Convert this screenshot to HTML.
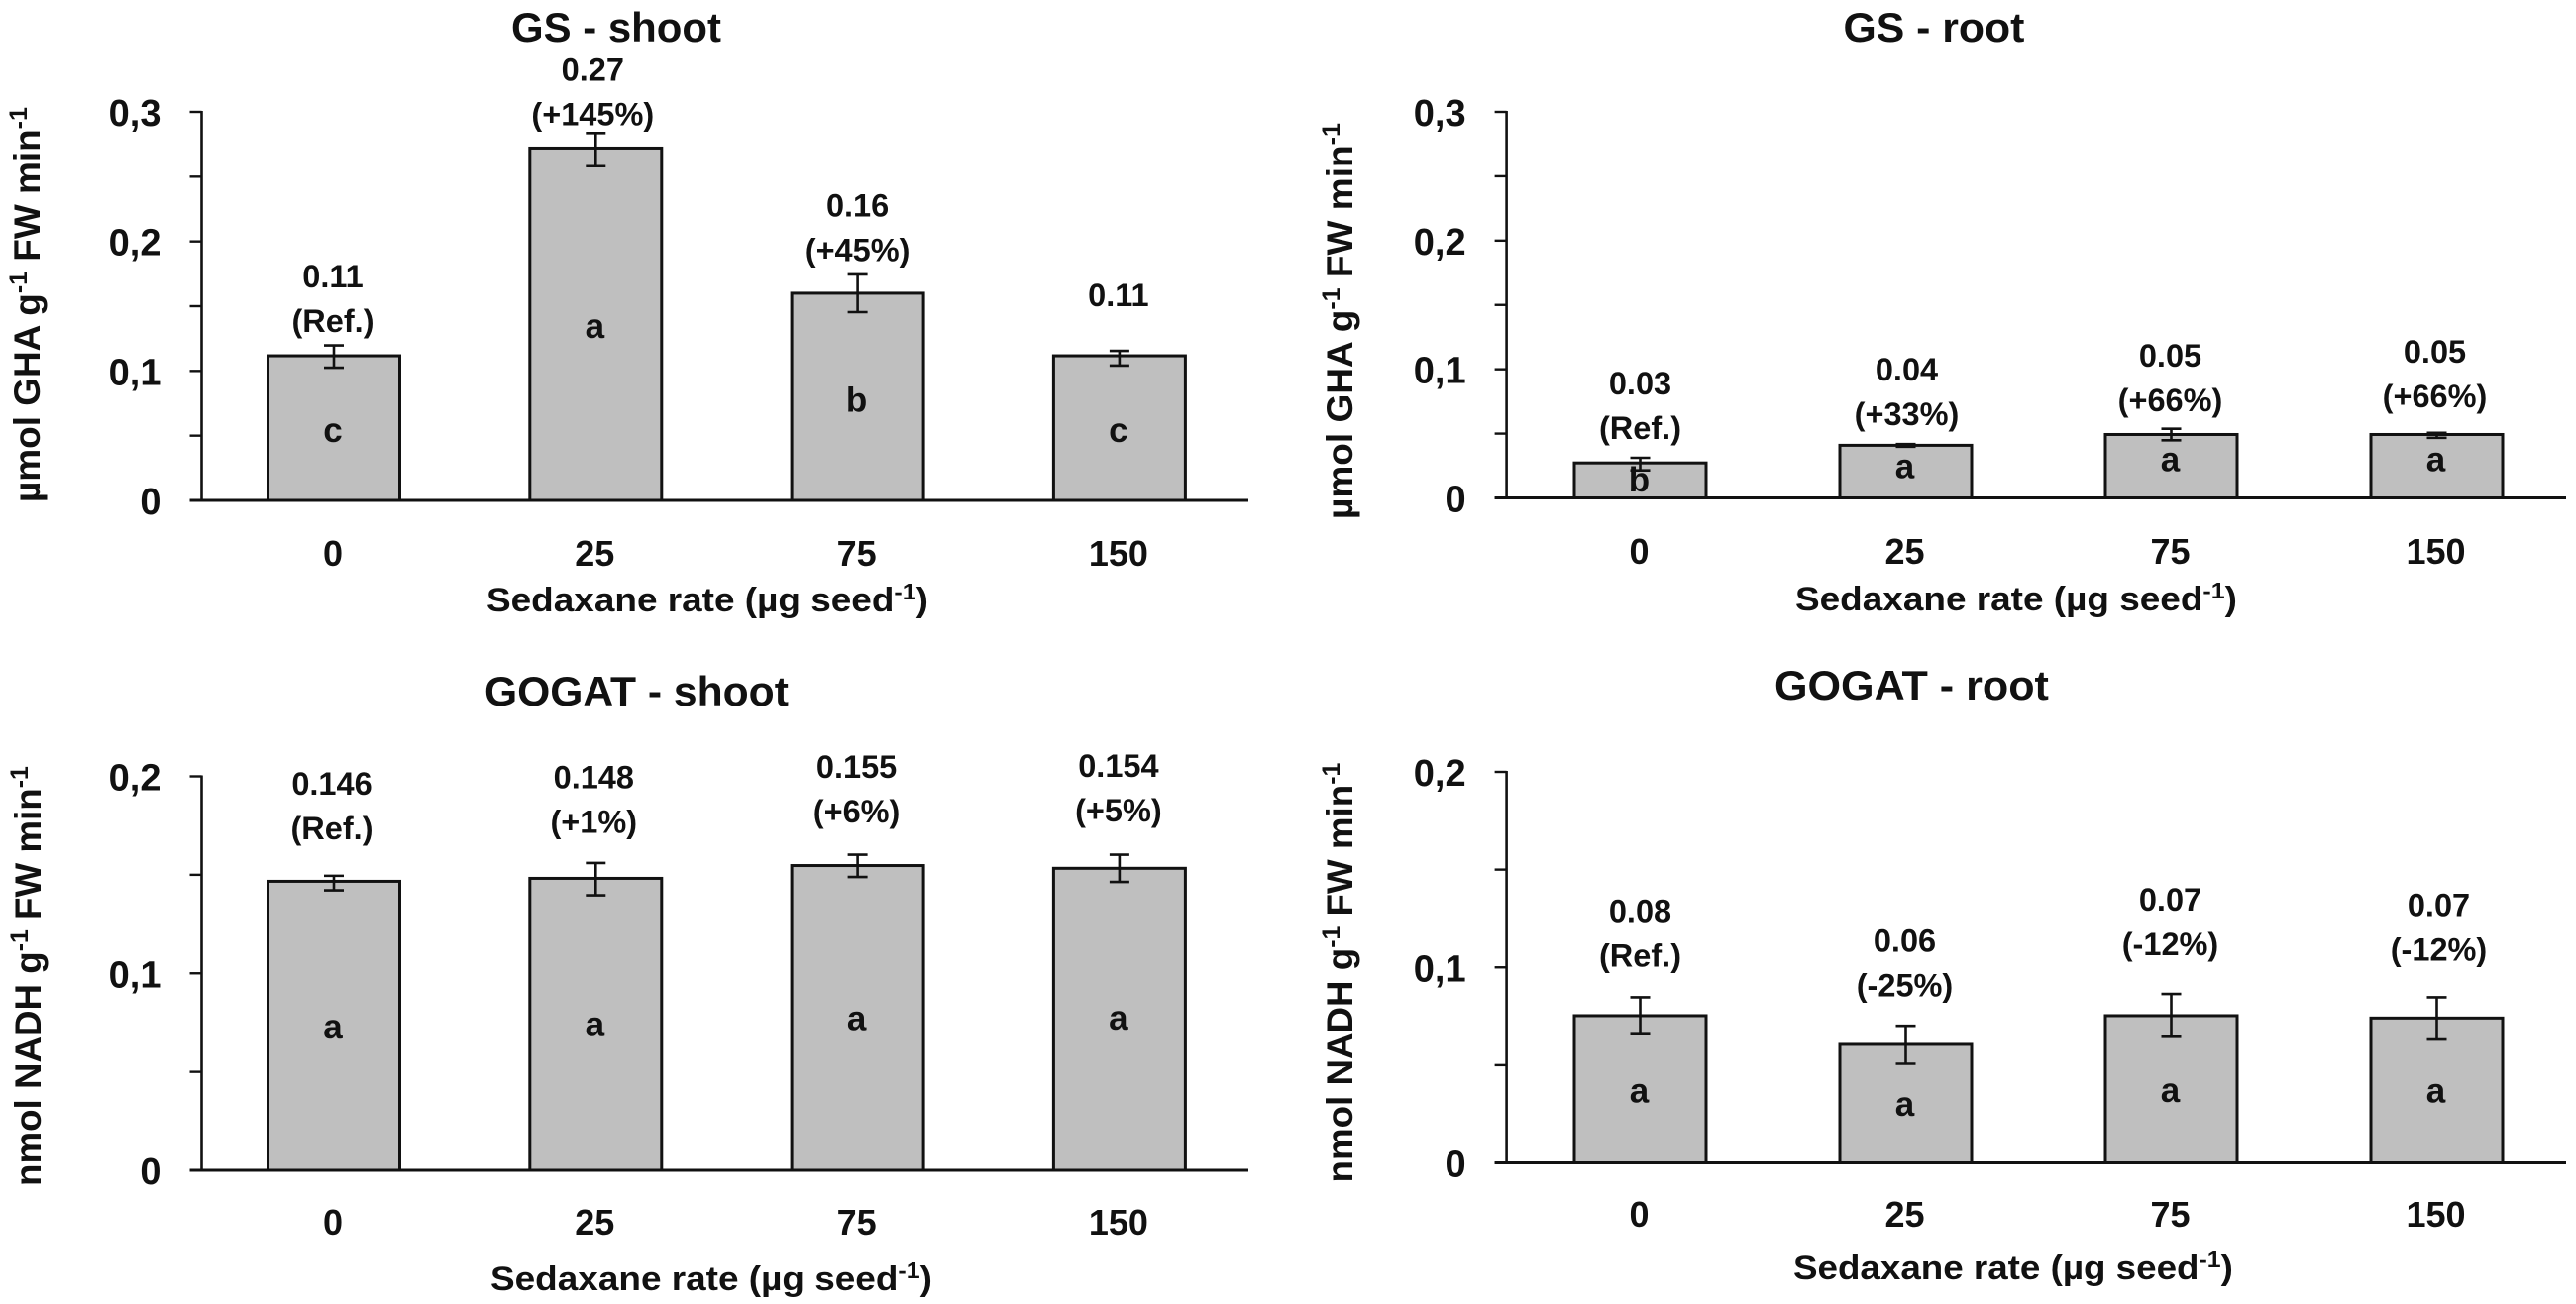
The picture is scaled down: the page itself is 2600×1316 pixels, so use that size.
<!DOCTYPE html>
<html lang="en">
<head>
<meta charset="utf-8">
<title>GS and GOGAT activity by Sedaxane rate</title>
<style>
html,body{margin:0;padding:0;background:#fff;}
svg{display:block;}
text{font-family:"Liberation Sans",sans-serif;font-weight:700;fill:#111;}
</style>
</head>
<body>
<svg id="figure" xmlns="http://www.w3.org/2000/svg" width="2600" height="1316" viewBox="0 0 2600 1316"></svg>
<script>
// ---- chart data ----
const categories = ['0', '25', '75', '150'];

const gsTickValues = [0, 0.05, 0.1, 0.15, 0.2, 0.25, 0.3];
const gsTickLabels = ['0', '', '0,1', '', '0,2', '', '0,3'];
const gogatTickValues = [0, 0.05, 0.1, 0.15, 0.2];
const gogatTickLabels = ['0', '', '0,1', '', '0,2'];

const gsShootMeans = [0.1117, 0.2721, 0.16, 0.1117];
const gsShootErrHigh = [0.1197, 0.2837, 0.1745, 0.1155];
const gsShootErrLow = [0.1025, 0.2581, 0.1454, 0.1041];
const gsShootValues = ['0.11', '0.27', '0.16', '0.11'];
const gsShootChanges = ['(Ref.)', '(+145%)', '(+45%)', ''];
const gsShootLetters = ['c', 'a', 'b', 'c'];

const gsRootMeans = [0.0272, 0.0409, 0.0493, 0.0493];
const gsRootErrHigh = [0.0312, 0.0418, 0.0538, 0.0506];
const gsRootErrLow = [0.0214, 0.0398, 0.0448, 0.0467];
const gsRootValues = ['0.03', '0.04', '0.05', '0.05'];
const gsRootChanges = ['(Ref.)', '(+33%)', '(+66%)', '(+66%)'];
const gsRootLetters = ['b', 'a', 'a', 'a'];

const gogatShootMeans = [0.1467, 0.1482, 0.1547, 0.1533];
const gogatShootErrHigh = [0.1495, 0.156, 0.1602, 0.1602];
const gogatShootErrLow = [0.1421, 0.1396, 0.1489, 0.1464];
const gogatShootValues = ['0.146', '0.148', '0.155', '0.154'];
const gogatShootChanges = ['(Ref.)', '(+1%)', '(+6%)', '(+5%)'];
const gogatShootLetters = ['a', 'a', 'a', 'a'];

const gogatRootMeans = [0.0753, 0.0606, 0.0753, 0.0741];
const gogatRootErrHigh = [0.0847, 0.0701, 0.0864, 0.0847];
const gogatRootErrLow = [0.0658, 0.0507, 0.0645, 0.0631];
const gogatRootValues = ['0.08', '0.06', '0.07', '0.07'];
const gogatRootChanges = ['(Ref.)', '(-25%)', '(-12%)', '(-12%)'];
const gogatRootLetters = ['a', 'a', 'a', 'a'];

// ---- layout (geometry only) ----
const panels = [
  { key:'gs-shoot', title:'GS - shoot', means:gsShootMeans, hi:gsShootErrHigh, lo:gsShootErrLow,
    vals:gsShootValues, chg:gsShootChanges, let:gsShootLetters, ticks:gsTickValues, tickText:gsTickLabels, max:0.3,
    unit:'µmol GHA g', axisX:203.5, top:113, y0:505, xEnd:1260, bandStart:337, bandStep:264.3,
    labelLift:[13.5,8,13.4,45], labelShift:[-1,-3,0,-1], letterNudge:[3,3,4,3],
    tickBase:571, xTitleX:491, xTitleW:446, xTitleBase:617, titleX:516, titleW:212, titleBase:42,
    yLabelBase:40, yLabelBottom:507, yLabelLen:399 },
  { key:'gs-root', title:'GS - root', means:gsRootMeans, hi:gsRootErrHigh, lo:gsRootErrLow,
    vals:gsRootValues, chg:gsRootChanges, let:gsRootLetters, ticks:gsTickValues, tickText:gsTickLabels, max:0.3,
    unit:'µmol GHA g', axisX:1520.6, top:113, y0:502.5, xEnd:2590, bandStart:1655.5, bandStep:268,
    labelLift:[19,19,17.7,26], labelShift:[0,1,-1,-2], letterNudge:[0,-4.5,-6,-6],
    tickBase:569, xTitleX:1812, xTitleW:446, xTitleBase:616, titleX:1860.5, titleW:183, titleBase:42,
    yLabelBase:1365, yLabelBottom:524, yLabelLen:400 },
  { key:'gogat-shoot', title:'GOGAT - shoot', means:gogatShootMeans, hi:gogatShootErrHigh, lo:gogatShootErrLow,
    vals:gogatShootValues, chg:gogatShootChanges, let:gogatShootLetters, ticks:gogatTickValues, tickText:gogatTickLabels, max:0.2,
    unit:'nmol NADH g', axisX:203.5, top:783.5, y0:1181, xEnd:1260, bandStart:337, bandStep:264.3,
    labelLift:[37,30.4,32.5,33.5], labelShift:[-2,-2,-1,-1], letterNudge:[1.7,0.9,1,-0.6],
    tickBase:1246, xTitleX:495, xTitleW:446, xTitleBase:1302, titleX:489, titleW:307, titleBase:712,
    yLabelBase:41, yLabelBottom:1197, yLabelLen:424 },
  { key:'gogat-root', title:'GOGAT - root', means:gogatRootMeans, hi:gogatRootErrHigh, lo:gogatRootErrLow,
    vals:gogatRootValues, chg:gogatRootChanges, let:gogatRootLetters, ticks:gogatTickValues, tickText:gogatTickLabels, max:0.2,
    unit:'nmol NADH g', axisX:1520.6, top:779, y0:1173.5, xEnd:2590, bandStart:1655.5, bandStep:268,
    labelLift:[30.7,29.5,39,37], labelShift:[0,-1,-1,2], letterNudge:[2.5,1.3,1.7,1],
    tickBase:1238, xTitleX:1810, xTitleW:444, xTitleBase:1291, titleX:1791, titleW:277, titleBase:706,
    yLabelBase:1365, yLabelBottom:1193.5, yLabelLen:424 }
];

const SVGNS = 'http://www.w3.org/2000/svg';
const svg = document.getElementById('figure');
const INK = '#111';

function make(parent, tag, props) {
  const n = document.createElementNS(SVGNS, tag);
  for (const k in props) n.setAttribute(k, props[k]);
  parent.appendChild(n);
  return n;
}
function addRun(node, str, dy, size) {
  const t = document.createElementNS(SVGNS, 'tspan');
  if (dy) t.setAttribute('dy', dy);
  if (size) t.setAttribute('font-size', size);
  t.textContent = str;
  node.appendChild(t);
}
function fit(node, x, y, width, rotated) {
  const natural = node.getComputedTextLength();
  const sx = natural > 0 ? width / natural : 1;
  node.setAttribute('transform', 'translate(' + x + ' ' + y + ')' + (rotated ? ' rotate(-90)' : '') + ' scale(' + sx + ' 1)');
}

panels.forEach(function (p) {
  const scaleY = function (v) { return p.y0 - (v / p.max) * (p.y0 - p.top); };
  const scaleX = function (i) { return p.bandStart + i * p.bandStep; };
  const barW = 133;

  const g = make(svg, 'g', {});
  
  

  // title
  const title = make(g, 'text', { 'font-size': 42 });
  title.textContent = p.title;
  
  
  fit(title, p.titleX, p.titleBase, p.titleW, false);

  // bars
  p.means.forEach(function (v, i) {
    const cx = scaleX(i);
    const bar = make(g, 'rect', { x: cx - barW / 2, y: scaleY(v), width: barW, height: p.y0 - scaleY(v), fill: '#bfbfbf', stroke: INK, 'stroke-width': 3 });
    
    

    const yHi = scaleY(p.hi[i]);
    const yLo = scaleY(p.lo[i]);
    const err = make(g, 'path', {
      d: 'M' + (cx - 10) + ' ' + yHi + 'H' + (cx + 10) + 'M' + cx + ' ' + yHi + 'V' + yLo + 'M' + (cx - 10) + ' ' + yLo + 'H' + (cx + 10),
      fill: 'none', stroke: INK, 'stroke-width': 2.6
    });
    
    

    // significance letter, centred in the bar
    const letter = make(g, 'text', { x: cx - 1, y: (scaleY(v) + p.y0) / 2 + p.letterNudge[i] + 11, 'font-size': 35, 'text-anchor': 'middle' });
    letter.textContent = p.let[i];
    
    

    // printed value and change
    const bottom = yHi - p.labelLift[i];
    const lx = cx + p.labelShift[i];
    if (p.chg[i]) {
      const chg = make(g, 'text', { x: lx, y: bottom, 'font-size': 32.5, 'text-anchor': 'middle' });
      chg.textContent = p.chg[i];
      
      
    }
    const val = make(g, 'text', { x: lx, y: p.chg[i] ? bottom - 45 : bottom, 'font-size': 32.5, 'text-anchor': 'middle' });
    val.textContent = p.vals[i];
    
    

    // category tick label
    const tick = make(g, 'text', { x: cx - 1, y: p.tickBase, 'font-size': 36, 'text-anchor': 'middle' });
    tick.textContent = categories[i];
    
    
  });

  // y axis and ticks
  const yAxis = make(g, 'line', { x1: p.axisX, x2: p.axisX, y1: p.top - 1, y2: p.y0, stroke: INK, 'stroke-width': 2.6 });
  
  
  p.ticks.forEach(function (t, i) {
    const ty = scaleY(t);
    const mark = make(g, 'line', { x1: p.axisX - 12, x2: p.axisX, y1: ty, y2: ty, stroke: INK, 'stroke-width': 2.4 });
    
    
    if (p.tickText[i]) {
      const lab = make(g, 'text', { x: p.axisX - 41, y: ty + 14, 'font-size': 38, 'text-anchor': 'end' });
      lab.textContent = p.tickText[i];
      
      
    }
  });

  // x axis
  const xAxis = make(g, 'line', { x1: p.axisX - 12, x2: p.xEnd, y1: p.y0, y2: p.y0, stroke: INK, 'stroke-width': 3 });
  
  

  // x axis title
  const xTitle = make(g, 'text', { 'font-size': 34 });
  addRun(xTitle, 'Sedaxane rate (µg seed');
  addRun(xTitle, '-1', -12, 23);
  addRun(xTitle, ')', 12);
  
  
  fit(xTitle, p.xTitleX, p.xTitleBase, p.xTitleW, false);

  // y axis title
  const yTitle = make(g, 'text', { 'font-size': 37 });
  addRun(yTitle, p.unit);
  addRun(yTitle, '-1', -13, 25);
  addRun(yTitle, ' FW min', 13);
  addRun(yTitle, '-1', -13, 25);
  
  
  fit(yTitle, p.yLabelBase, p.yLabelBottom, p.yLabelLen, true);
});
</script>
</body>
</html>
